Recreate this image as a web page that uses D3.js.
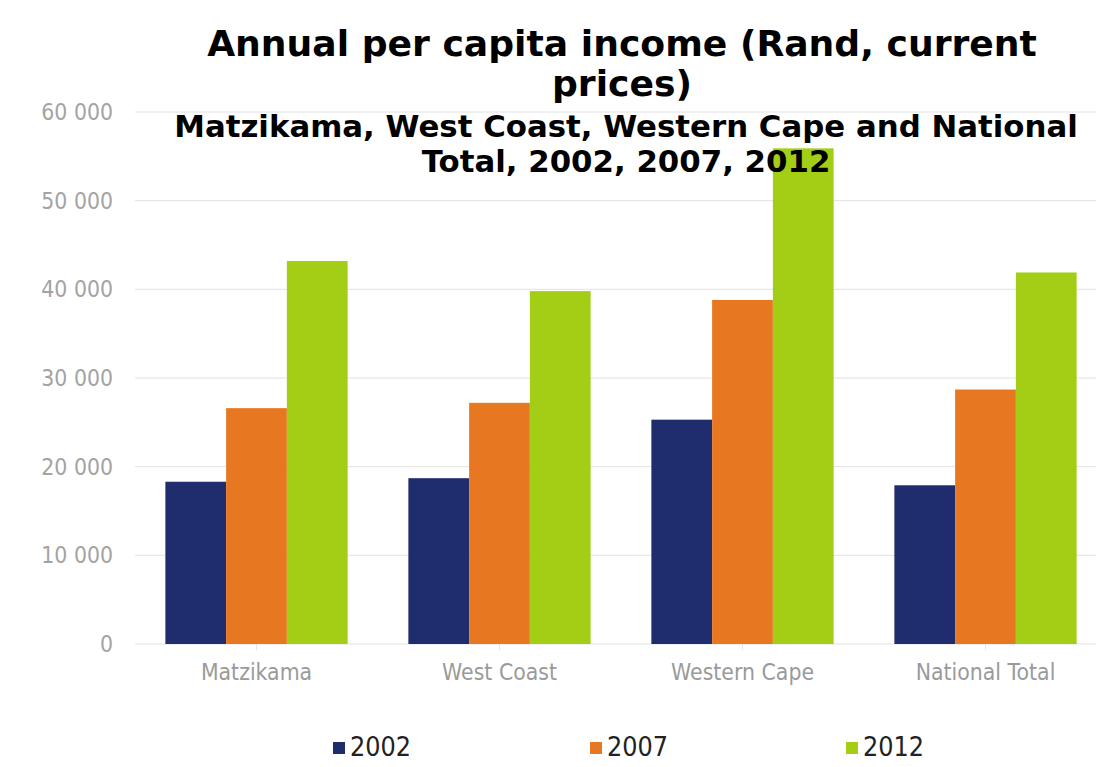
<!DOCTYPE html>
<html><head><meta charset="utf-8">
<script src="https://cdn.jsdelivr.net/npm/d3@7"></script>
<style>body{margin:0;background:#fff}svg{display:block}</style>
</head><body>
<script>
const categories = ["Matzikama", "West Coast", "Western Cape", "National Total"];
const years = ["2002", "2007", "2012"];
const v2002 = [18300, 18700, 25300, 17900];
const v2007 = [26600, 27200, 38800, 28700];
const v2012 = [43200, 39800, 55900, 41900];
const yTicks = [0, 10000, 20000, 30000, 40000, 50000, 60000];
const colors = ["#1f2c6e", "#e87722", "#a3ce15"];
const titleLines = ["Annual per capita income (Rand, current", "prices)"];
const subtitleLines = ["Matzikama, West Coast, Western Cape and National", "Total, 2002, 2007, 2012"];

const W = 1096, H = 767;
const svg = d3.select("body").append("svg").attr("width", W).attr("height", H);
svg.append("rect").attr("width", W).attr("height", H).attr("fill", "#fff");

const x0 = d3.scaleBand().domain(categories).range([135, 1107]).paddingInner(0.25).paddingOuter(0.125);
const x1 = d3.scaleBand().domain(years).range([0, x0.bandwidth()]);
const y = d3.scaleLinear().domain([0, 60000]).range([644, 112]);

const fmt = d => d3.format(",")(d).replace(/,/g, " ");

// gridlines
svg.append("g").selectAll("line").data(yTicks).join("line")
  .attr("x1", 135).attr("x2", W).attr("y1", d => y(d)).attr("y2", d => y(d))
  .attr("stroke", "#e2e2e2").attr("stroke-width", 1);

// y axis labels
svg.append("g").selectAll("text").data(yTicks).join("text")
  .attr("transform", d => `translate(113,${y(d)}) scale(1,1.1)`).attr("dy", "0.35em")
  .attr("text-anchor", "end").attr("font-family", "DejaVu Sans").attr("font-size", 20.5)
  .attr("fill", "#a3a3a3").text(fmt);

// bars
const series = [v2002, v2007, v2012];
const g = svg.append("g");
categories.forEach((c, i) => {
  years.forEach((yr, j) => {
    const v = series[j][i];
    g.append("rect").attr("x", x0(c) + x1(yr)).attr("width", x1.bandwidth())
      .attr("y", y(v)).attr("height", y(0) - y(v)).attr("fill", colors[j]);
  });
});

// small category ticks
svg.append("g").selectAll("line").data(categories).join("line")
  .attr("x1", d => x0(d) + x0.bandwidth()/2).attr("x2", d => x0(d) + x0.bandwidth()/2)
  .attr("y1", 644).attr("y2", 650).attr("stroke", "#e6e6e6");

// category labels
svg.append("g").selectAll("text").data(categories).join("text")
  .attr("transform", d => `translate(${x0(d) + x0.bandwidth()/2},680) scale(1,1.1)`)
  .attr("text-anchor", "middle").attr("font-family", "DejaVu Sans").attr("font-size", 20.5)
  .attr("fill", "#9a9a9a").text(d => d);

// fit helper
function fitSize(text, weight, target) {
  const t = svg.append("text").attr("font-family", "DejaVu Sans").attr("font-weight", weight)
    .attr("font-size", 30).text(text);
  const w = t.node().getComputedTextLength(); t.remove();
  return 30 * target / w;
}
const ts = fitSize(titleLines[0], "bold", 830);
const ss = fitSize(subtitleLines[0], "bold", 904);
const titleY = [56, 96];
titleLines.forEach((l, i) => {
  svg.append("text").attr("x", 622).attr("y", titleY[i]).attr("text-anchor", "middle")
    .attr("font-family", "DejaVu Sans").attr("font-weight", "bold").attr("font-size", ts)
    .attr("fill", "#000").text(l);
});
const subY = [137, 172];
subtitleLines.forEach((l, i) => {
  svg.append("text").attr("x", 626).attr("y", subY[i]).attr("text-anchor", "middle")
    .attr("font-family", "DejaVu Sans").attr("font-weight", "bold").attr("font-size", ss)
    .attr("fill", "#000").text(l);
});

// legend
const legX = [333, 590, 846];
years.forEach((yr, j) => {
  svg.append("rect").attr("x", legX[j]).attr("y", 742).attr("width", 12).attr("height", 12).attr("fill", colors[j]);
  svg.append("text").attr("transform", `translate(${legX[j] + 17},756) scale(1,1.1)`)
    .attr("font-family", "DejaVu Sans").attr("font-size", 24).attr("fill", "#222").text(yr);
});
</script>
</body></html>
